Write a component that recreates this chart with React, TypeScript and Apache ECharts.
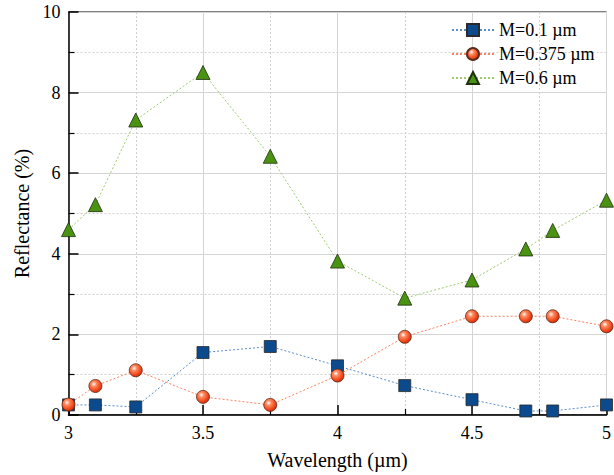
import React, { useEffect, useRef } from "react";
import * as echarts from "echarts";

const wavelengths = [3, 3.1, 3.25, 3.5, 3.75, 4, 4.25, 4.5, 4.7, 4.8, 5];
const m01 = [0.25, 0.25, 0.2, 1.55, 1.7, 1.22, 0.73, 0.38, 0.1, 0.1, 0.25];
const m0375 = [0.26, 0.72, 1.11, 0.45, 0.25, 0.98, 1.94, 2.45, 2.45, 2.45, 2.2];
const m06 = [4.6, 5.22, 7.32, 8.5, 6.42, 3.82, 2.9, 3.35, 4.12, 4.58, 5.33];
const seriesNames = ["M=0.1 µm", "M=0.375 µm", "M=0.6 µm"];

const FONT = "Liberation Serif";

export default function App() {
  const ref = useRef<HTMLDivElement>(null);
  useEffect(() => {
    if (!ref.current) return;
    const chart = echarts.init(ref.current, undefined, { renderer: "svg" });
    const pair = (ys: number[]) => wavelengths.map((x, i) => [x, ys[i]]);
    const axisCommon = {
      axisLine: { show: true, lineStyle: { color: "#000", width: 1.5 } },
      axisTick: { show: true, inside: true, length: 10, lineStyle: { color: "#000", width: 1.5 } },
      minorTick: { show: true, splitNumber: 2, length: 6, lineStyle: { color: "#000", width: 1.2 } },
      splitLine: { show: true, lineStyle: { color: "#d4d4d4", width: 1, type: "solid" } },
      minorSplitLine: { show: true, lineStyle: { color: "#d0d0d0", width: 1, type: [2, 2] } },
      axisLabel: { color: "#000", fontFamily: FONT, fontSize: 18 },
      nameTextStyle: { color: "#000", fontFamily: FONT, fontSize: 20 },
    };
    chart.setOption({
      animation: false,
      backgroundColor: "#fff",
      textStyle: { fontFamily: FONT },
      grid: {
        left: 68.5,
        right: 1.5,
        top: 12,
        bottom: 55,
        show: true,
        borderColor: "#000",
        borderWidth: 1,
      },
      xAxis: {
        type: "value",
        min: 3,
        max: 5,
        interval: 0.5,
        name: "Wavelength (µm)",
        nameLocation: "middle",
        nameGap: 35,
        ...axisCommon,
        axisLabel: { ...axisCommon.axisLabel, margin: 9 },
      },
      yAxis: {
        type: "value",
        min: 0,
        max: 10,
        interval: 2,
        name: "Reflectance (%)",
        nameLocation: "middle",
        nameGap: 37,
        ...axisCommon,
        axisLabel: { ...axisCommon.axisLabel, margin: 8 },
      },
      legend: {
        orient: "vertical",
        left: 446,
        top: 16,
        itemWidth: 42,
        itemHeight: 15,
        itemGap: 6,
        textStyle: { color: "#000", fontFamily: FONT, fontSize: 18 },
        data: seriesNames,
      },
      series: [
        {
          name: seriesNames[0],
          type: "line",
          data: pair(m01),
          symbol: "rect",
          symbolSize: 12,
          z: 3,
          lineStyle: { color: "#5b8ec9", width: 1, type: [2, 2] },
          itemStyle: { color: "#0b4a8c", borderColor: "#2a2a2a", borderWidth: 0.8 },
        },
        {
          name: seriesNames[1],
          type: "line",
          data: pair(m0375),
          symbol: "circle",
          symbolSize: 13,
          z: 4,
          lineStyle: { color: "#ff8060", width: 1, type: [2, 2] },
          itemStyle: {
            color: {
              type: "radial",
              x: 0.38,
              y: 0.35,
              r: 0.65,
              colorStops: [
                { offset: 0, color: "#ffffff" },
                { offset: 0.3, color: "#ff8a60" },
                { offset: 0.75, color: "#f04a1c" },
                { offset: 1, color: "#d83010" },
              ],
            },
            borderColor: "#5a2a1a",
            borderWidth: 0.8,
          },
        },
        {
          name: seriesNames[2],
          type: "line",
          data: pair(m06),
          symbol: "triangle",
          symbolSize: 14,
          z: 5,
          lineStyle: { color: "#9ccc6c", width: 1, type: [2, 2] },
          itemStyle: { color: "#4a9312", borderColor: "#1f2f10", borderWidth: 0.8 },
        },
      ],
    });
    return () => chart.dispose();
  }, []);
  return <div ref={ref} style={{ width: 614, height: 475, position: "absolute", left: 0, top: 0 }} />;
}
